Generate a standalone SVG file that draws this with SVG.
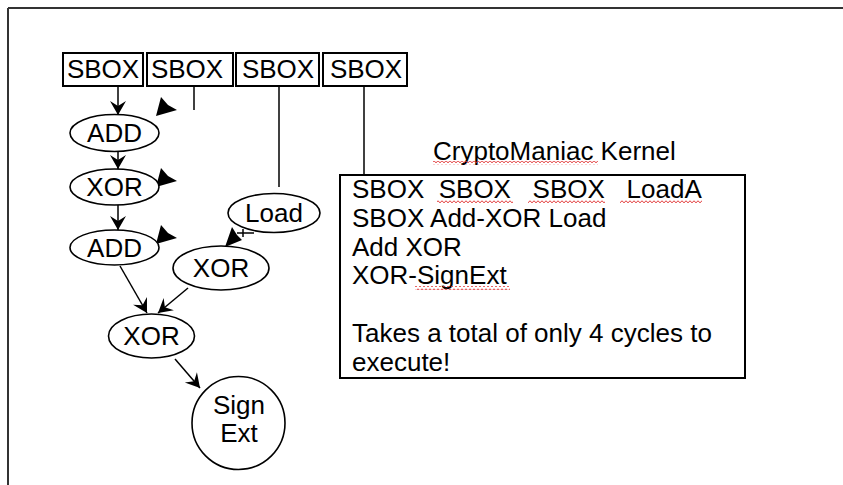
<svg xmlns="http://www.w3.org/2000/svg" width="843" height="485" viewBox="0 0 843 485">
<style>
  text { font-family: "Liberation Sans", Arial, sans-serif; font-size: 26px; fill: #000; }
  .node { fill: #fff; stroke: #000; stroke-width: 1.6; }
  .box { fill: #fff; stroke: #000; stroke-width: 2; }
  .conn { fill: none; stroke: #000; stroke-width: 1.5; }
  .head { fill: #000; stroke: none; }
  .mid { text-anchor: middle; }
  .sq { fill: url(#squiggle); }
</style>
<defs>
  <marker id="arrow" markerUnits="userSpaceOnUse" markerWidth="18" markerHeight="18" viewBox="-15 -9 16 18" refX="0" refY="0" orient="auto">
    <path d="M0,0 L-14,-8 L-9,0 L-14,8 Z" fill="#000"/>
  </marker>
  <pattern id="squiggle" patternUnits="userSpaceOnUse" width="4" height="4">
    <path d="M0,3 L1,1.5 L2,1 L3,1.5 L4,3" fill="none" stroke="#e03030" stroke-width="0.9"/>
  </pattern>
</defs>

<g id="frame">
  <line x1="8" y1="8" x2="843" y2="8" stroke="#333" stroke-width="2"/>
  <line x1="8" y1="8" x2="8" y2="485" stroke="#333" stroke-width="2"/>
</g>

<g id="connectors">
  <line class="conn" x1="118" y1="86" x2="118" y2="115" marker-end="url(#arrow)"/>
  <line class="conn" x1="194" y1="86" x2="194" y2="110"/>
  <line class="conn" x1="279" y1="86" x2="279" y2="187"/>
  <line class="conn" x1="364" y1="86" x2="364" y2="175"/>
  <line class="conn" x1="118" y1="140" x2="118" y2="169" marker-end="url(#arrow)" stroke="#444"/>
  <line class="conn" x1="118" y1="205" x2="118" y2="230" marker-end="url(#arrow)"/>
  <line class="conn" x1="120" y1="266" x2="147" y2="313" marker-end="url(#arrow)"/>
  <line class="conn" x1="188" y1="288" x2="158" y2="313" marker-end="url(#arrow)"/>
  <line class="conn" x1="175" y1="359" x2="200" y2="388" marker-end="url(#arrow)"/>
  <!-- dangling arrowheads -->
  <polygon class="head" points="156,116 161,97 168,105 177,110"/>
  <polygon class="head" points="156,187 161,168 168,176 177,181"/>
  <polygon class="head" points="156,244 161,225 168,233 177,238"/>
  <!-- Load to XOR -->
  <line class="conn" x1="254" y1="233" x2="237" y2="233"/>
  <line class="conn" x1="243" y1="229" x2="243" y2="237"/>
  <polygon class="head" points="225,247 232,227 237,235 242,240"/>
</g>

<g id="sbox1"><rect class="box" x="63" y="53" width="80" height="33"/><text class="mid" x="103" y="78">SBOX</text></g>
<g id="sbox2"><rect class="box" x="147" y="53" width="86" height="33"/><text class="mid" x="187" y="78">SBOX</text></g>
<g id="sbox3"><rect class="box" x="236" y="53" width="83" height="33"/><text class="mid" x="278" y="78">SBOX</text></g>
<g id="sbox4"><rect class="box" x="323" y="53" width="84" height="33"/><text class="mid" x="366" y="78">SBOX</text></g>

<g id="add1"><ellipse class="node" cx="114.5" cy="133" rx="44.5" ry="18.5"/><text class="mid" x="114.5" y="142">ADD</text></g>
<g id="xor1"><ellipse class="node" cx="114.5" cy="187" rx="44.5" ry="18"/><text class="mid" x="114.5" y="196">XOR</text></g>
<g id="add2"><ellipse class="node" cx="114.5" cy="247.5" rx="44.5" ry="17.5"/><text class="mid" x="114.5" y="256.5">ADD</text></g>
<g id="load"><ellipse class="node" cx="274" cy="213" rx="46" ry="19.5"/><text class="mid" x="274" y="222">Load</text></g>
<g id="xor2"><ellipse class="node" cx="221" cy="268" rx="48" ry="22"/><text class="mid" x="221" y="277">XOR</text></g>
<g id="xor3"><ellipse class="node" cx="151.5" cy="336" rx="43" ry="22"/><text class="mid" x="151.5" y="345">XOR</text></g>
<g id="signext"><circle class="node" cx="238.5" cy="423" r="46.5"/><text class="mid" x="239" y="414">Sign</text><text class="mid" x="239" y="442">Ext</text></g>

<g id="kernel">
  <text x="433" y="160">CryptoManiac Kernel</text>
  <rect class="sq" x="433" y="161" width="165" height="4"/>
  <rect class="box" x="340" y="175" width="405" height="203"/>
  <text x="352" y="198" xml:space="preserve">SBOX  SBOX   SBOX   LoadA</text>
  <text x="352" y="227">SBOX Add-XOR Load</text>
  <text x="352" y="256">Add XOR</text>
  <text x="352" y="284">XOR-SignExt</text>
  <text x="352" y="342">Takes a total of only 4 cycles to</text>
  <text x="352" y="371">execute!</text>
  <rect class="sq" x="437" y="199" width="76" height="4"/>
  <rect class="sq" x="528" y="199" width="77" height="4"/>
  <rect class="sq" x="620" y="199" width="82" height="4"/>
  <rect class="sq" x="415" y="286" width="95" height="4"/>
</g>
</svg>
